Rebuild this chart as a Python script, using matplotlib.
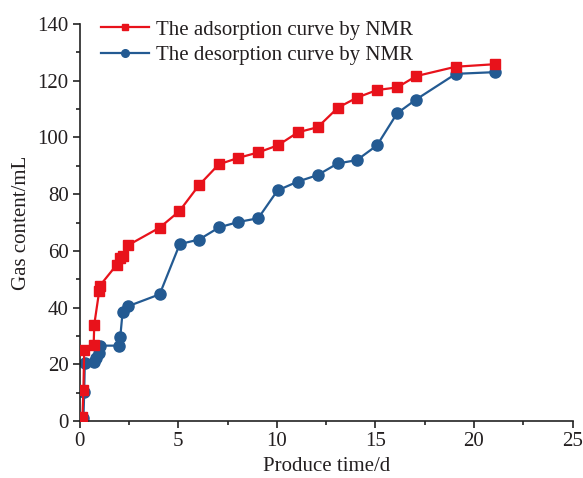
import numpy as np
import matplotlib.pyplot as plt
from matplotlib.ticker import MultipleLocator
from matplotlib.lines import Line2D

plt.rcParams['font.family'] = ['Liberation Serif', 'DejaVu Serif']
plt.rcParams['mathtext.fontset'] = 'stix'

# adsorption curve (red squares)
ads_t = [0.13, 0.18, 0.22, 0.70, 0.73, 0.98, 1.0, 1.88, 2.05, 2.17, 2.45, 4.05,
         5.05, 6.05, 7.05, 8.05, 9.05, 10.05, 11.07, 12.07, 13.1, 14.06, 15.08,
         16.1, 17.07, 19.07, 21.07]
ads_v = [1.5, 11, 25.2, 27, 34, 45.8, 47.6, 55.2, 57.6, 58.1, 62, 68.2,
         74, 83.2, 90.5, 92.8, 94.7, 97.2, 101.8, 103.6, 110.5, 114, 116.7,
         117.6, 121.6, 124.9, 125.8]

# desorption curve (blue circles)
des_t = [0.18, 0.22, 0.25, 0.70, 0.81, 0.98, 1.0, 2.0, 2.05, 2.17, 2.45, 4.05,
         5.07, 6.05, 7.07, 8.05, 9.05, 10.03, 11.05, 12.06, 13.08, 14.06, 15.08,
         16.1, 17.05, 19.08, 21.07]
des_v = [1.0, 10.4, 20.5, 21, 22.3, 23.9, 26.6, 26.6, 29.6, 38.6, 40.5, 44.7,
         62.4, 64.0, 68.3, 70.2, 71.5, 81.3, 84.4, 86.7, 90.8, 92.0, 97.2,
         108.5, 113.3, 122.4, 123.0]

red = '#E8121B'
blue = '#235A92'
txt = '#231F20'

fig = plt.figure(figsize=(5.83, 4.78), dpi=100)
ax = fig.add_axes([0.137, 0.119, 0.845, 0.831])

ax.plot(ads_t, ads_v, color=red, lw=1.6, marker='s', ms=7, zorder=3)
ax.plot(des_t, des_v, color=blue, lw=1.6, marker='o', ms=8, zorder=2)

ax.set_xlim(0, 25)
ax.set_ylim(0, 140)
ax.xaxis.set_major_locator(MultipleLocator(5))
ax.xaxis.set_minor_locator(MultipleLocator(2.5))
ax.yaxis.set_major_locator(MultipleLocator(20))
ax.yaxis.set_minor_locator(MultipleLocator(10))
for s in ['top', 'right']:
    ax.spines[s].set_visible(False)
for s in ['left', 'bottom']:
    ax.spines[s].set_linewidth(1.2)
    ax.spines[s].set_color('#222222')
ax.tick_params(which='major', direction='out', length=5, width=1.2,
               labelsize=15, labelcolor=txt, colors='#222222', pad=3)
ax.tick_params(which='minor', direction='out', length=3, width=1.2, colors='#222222')
ax.tick_params(axis='x', which='major', labelcolor=txt)

ax.set_xlabel('Produce time/d', fontsize=15, color=txt, labelpad=4)
ax.set_ylabel('Gas content/mL', fontsize=15, color=txt, labelpad=5)

handles = [Line2D([], [], color=red, lw=1.6, marker='s', ms=5),
           Line2D([], [], color=blue, lw=1.6, marker='o', ms=5.5)]
ax.legend(handles, ['The adsorption curve by NMR', 'The desorption curve by NMR'],
          loc='upper left', bbox_to_anchor=(0.004, 1.057), frameon=False,
          fontsize=15, handlelength=2.3, handletextpad=0.35, labelspacing=0.28,
          labelcolor=txt)

fig.savefig('out.png', dpi=100)
